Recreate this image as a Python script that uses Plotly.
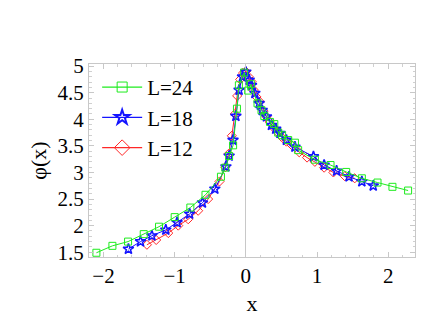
import plotly.graph_objects as go

# L=24 (green squares)
x24 = [-2.10, -1.875, -1.655, -1.435, -1.22, -1.00, -0.78, -0.567, -0.35, -0.29, -0.235, -0.179,
       -0.125, -0.098, -0.024, 0.033, 0.07, 0.164, 0.22, 0.26, 0.34, 0.40, 0.455, 0.51, 0.595,
       0.69, 0.735, 0.97, 1.19, 1.41, 1.63, 1.85, 2.06, 2.28]
y24 = [1.49, 1.62, 1.70, 1.84, 1.98, 2.16, 2.34, 2.58, 2.92, 3.09, 3.31, 3.51,
       4.20, 4.64, 4.88, 4.54, 4.66, 4.30, 4.17, 4.06, 3.95, 3.91, 3.75, 3.70, 3.61,
       3.56, 3.42, 3.24, 3.14, 3.01, 2.89, 2.81, 2.73, 2.66]

# L=18 (blue stars)
x18 = [-1.65, -1.48, -1.32, -1.125, -0.966, -0.79, -0.61, -0.436, -0.28, -0.235, -0.18, -0.14,
       -0.095, -0.047, 0.0, 0.047, 0.08, 0.127, 0.187, 0.23, 0.29, 0.36, 0.42, 0.48, 0.57, 0.69,
       0.95, 1.10, 1.275, 1.45, 1.63, 1.79]
y18 = [1.56, 1.70, 1.81, 1.92, 2.06, 2.22, 2.43, 2.69, 3.11, 3.31, 3.61, 4.06,
       4.55, 4.80, 4.89, 4.74, 4.64, 4.49, 4.30, 4.17, 4.05, 3.89, 3.82, 3.74, 3.61, 3.48,
       3.30, 3.14, 3.03, 2.92, 2.83, 2.75]

# L=12 (red diamonds)
x12 = [-1.39, -1.26, -1.09, -0.95, -0.81, -0.67, -0.53, -0.37, -0.29, -0.243, -0.197, -0.155,
       -0.122, -0.08, -0.04, 0.0, 0.04, 0.08, 0.113, 0.15, 0.197, 0.25, 0.29, 0.336, 0.40, 0.45,
       0.50, 0.57, 0.64, 0.75, 0.86, 0.97, 1.10, 1.23, 1.39, 1.53]
y12 = [1.64, 1.73, 1.86, 2.00, 2.12, 2.28, 2.50, 2.83, 3.10, 3.35, 3.69, 4.10,
       4.44, 4.75, 4.87, 4.90, 4.80, 4.71, 4.55, 4.42, 4.33, 4.15, 4.05, 3.95, 3.83, 3.75,
       3.67, 3.58, 3.52, 3.38, 3.28, 3.20, 3.09, 3.00, 2.93, 2.89]

GREEN = "rgb(30,235,30)"
BLUE = "rgb(20,20,255)"
RED = "rgb(255,40,40)"
FONT = "Liberation Serif"

fig = go.Figure()

# data traces (red first, then blue, then green on top)
fig.add_trace(go.Scatter(x=x12, y=y12, mode="lines+markers", showlegend=False,
                         line=dict(color=RED, width=1),
                         marker=dict(symbol="diamond-open", size=7, color=RED, line=dict(width=1))))
fig.add_trace(go.Scatter(x=x18, y=y18, mode="lines+markers", showlegend=False,
                         line=dict(color=BLUE, width=1),
                         marker=dict(symbol="star-open", size=8, color=BLUE, line=dict(width=1.5))))
fig.add_trace(go.Scatter(x=x24, y=y24, mode="lines+markers", showlegend=False,
                         line=dict(color=GREEN, width=1),
                         marker=dict(symbol="square-open", size=7, color=GREEN, line=dict(width=1))))

# legend entries
fig.add_trace(go.Scatter(x=[None], y=[None], mode="lines+markers", name="L=24",
                         line=dict(color=GREEN, width=1.2),
                         marker=dict(symbol="square-open", size=10, color=GREEN, line=dict(width=1))))
fig.add_trace(go.Scatter(x=[None], y=[None], mode="lines+markers", name="L=18",
                         line=dict(color=BLUE, width=1.2),
                         marker=dict(symbol="star-open", size=11, color=BLUE, line=dict(width=2))))
fig.add_trace(go.Scatter(x=[None], y=[None], mode="lines+markers", name="L=12",
                         line=dict(color=RED, width=1.2),
                         marker=dict(symbol="diamond-open", size=12, color=RED, line=dict(width=1))))

axis_common = dict(
    showline=True, linecolor="#c8c8c8", linewidth=1, mirror="ticks",
    ticks="inside", ticklen=5, tickcolor="#c8c8c8", tickwidth=1,
    showgrid=False, tickfont=dict(family=FONT, size=21, color="black"),
    minor=dict(ticks="inside", ticklen=2.5, tickcolor="#d0d0d0", tickwidth=1, showgrid=False),
)

# page body has an 8px margin; compensate so the plot frame lands where the reference's does
fig.update_layout(
    width=428, height=327,
    margin=dict(l=81, r=21, t=56, b=78),
    paper_bgcolor="white", plot_bgcolor="white",
    font=dict(family=FONT, size=21, color="black"),
    showlegend=True,
    legend=dict(x=0.025, y=0.985, xanchor="left", yanchor="top",
                bgcolor="rgba(0,0,0,0)", font=dict(family=FONT, size=21),
                tracegroupgap=0, itemwidth=40),
    xaxis=dict(range=[-2.204, 2.377], tickvals=[-2, -1, 0, 1, 2],
               zeroline=True, zerolinecolor="#c8c8c8", zerolinewidth=1,
               title=dict(text="x", font=dict(family=FONT, size=22), standoff=8),
               **axis_common),
    yaxis=dict(range=[1.41, 5.04], tickvals=[1.5, 2, 2.5, 3, 3.5, 4, 4.5, 5],
               ticktext=["1.5", "2", "2.5", "3", "3.5", "4", "4.5", "5"],
               zeroline=False,
               title=dict(text="φ(x)", font=dict(family=FONT, size=22), standoff=4),
               **axis_common),
)
fig.update_xaxes(minor_dtick=0.2)
fig.update_yaxes(minor_dtick=0.1)

fig.write_html("out.html")
